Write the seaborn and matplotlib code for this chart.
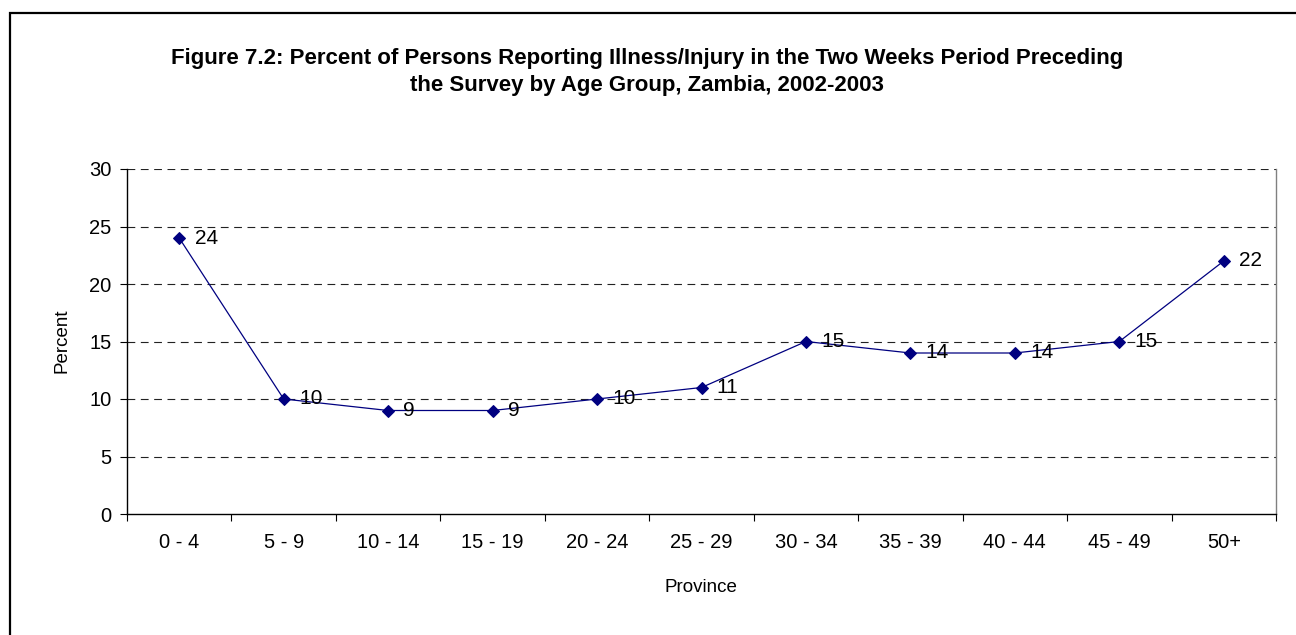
import numpy as np
import pandas as pd
import matplotlib
matplotlib.use("Agg")
import matplotlib.pyplot as plt
import matplotlib.patches as patches
import seaborn as sns

# Data
age_groups = ["0 - 4", "5 - 9", "10 - 14", "15 - 19", "20 - 24", "25 - 29",
              "30 - 34", "35 - 39", "40 - 44", "45 - 49", "50+"]
percent = [24, 10, 9, 9, 10, 11, 15, 14, 14, 15, 22]
y_ticks = [0, 5, 10, 15, 20, 25, 30]

title = ("Figure 7.2: Percent of Persons Reporting Illness/Injury in the Two Weeks Period Preceding\n"
         "the Survey by Age Group, Zambia, 2002-2003")

sns.set_style("white")
plt.rcParams['font.family'] = ['Liberation Sans', 'DejaVu Sans']
plt.rcParams['text.color'] = 'black'
plt.rcParams['xtick.color'] = 'black'
plt.rcParams['ytick.color'] = 'black'
plt.rcParams['xtick.labelcolor'] = 'black'
plt.rcParams['ytick.labelcolor'] = 'black'

df = pd.DataFrame({"pos": np.arange(len(age_groups)), "percent": percent})

fig = plt.figure(figsize=(12.96, 6.35), dpi=100)
ax = fig.add_axes([127 / 1296, 1 - 514 / 635, (1276 - 127) / 1296, (514 - 169) / 635])

# dashed horizontal gridlines
for yv in y_ticks[1:]:
    ax.axhline(yv, color="#222222", lw=0.8, ls=(0, (7, 5)), zorder=1)

sns.lineplot(data=df, x="pos", y="percent", ax=ax, color="#000080", lw=0.9,
             marker="D", markersize=6, markeredgecolor="#000080", sort=False, zorder=3)

for xp, yv in zip(df["pos"], df["percent"]):
    ax.annotate(str(yv), (xp, yv), xytext=(11, 0), textcoords="offset points",
                ha="left", va="center", fontsize=15, color="black", zorder=4)

ax.set_xlim(-0.5, len(age_groups) - 0.5)
ax.set_ylim(0, 30)

# tick marks between categories, labels centred on categories
ax.set_xticks(np.arange(-0.5, len(age_groups), 1.0))
ax.set_xticklabels([])
ax.set_xticks(np.arange(len(age_groups)), minor=True)
ax.set_xticklabels(age_groups, minor=True)
ax.tick_params(axis="x", which="major", direction="out", length=5, width=0.8, color="black", bottom=True)
ax.tick_params(axis="x", which="minor", length=0, pad=14, labelsize=14.5)

ax.set_yticks(y_ticks)
ax.tick_params(axis="y", direction="out", length=5, width=0.8, color="black", left=True,
               labelsize=14.5, pad=6)

ax.spines["top"].set_visible(False)
ax.spines["left"].set_color("black")
ax.spines["bottom"].set_color("black")
ax.spines["right"].set_color("#808080")
for s in ["left", "bottom", "right"]:
    ax.spines[s].set_linewidth(1.0)

ax.set_xlabel("")
ax.set_ylabel("")
fig.text(62 / 1296, 1 - 341 / 635, "Percent", rotation=90, ha="center", va="center", fontsize=13.5)
fig.text(701 / 1296, 1 - 587 / 635, "Province", ha="center", va="center", fontsize=13.5)

fig.text(647 / 1296, 1 - 72 / 635, title, ha="center", va="center", fontsize=16,
         fontweight="bold", linespacing=1.35)

# outer frame (only top and left edges fall inside the picture)
frame = patches.Rectangle((9.5 / 1296, -0.05), 1.2, 1 - 12.5 / 635 + 0.05, transform=fig.transFigure,
                          fill=False, edgecolor="black", lw=1.6)
fig.patches.append(frame)

fig.savefig("out.png", dpi=100)
